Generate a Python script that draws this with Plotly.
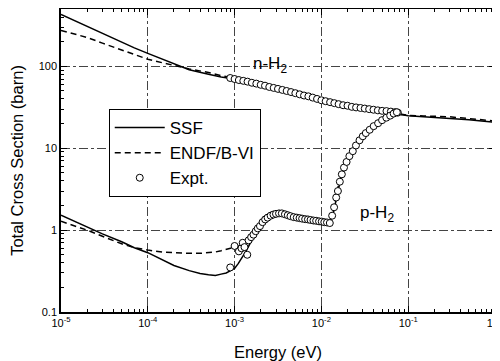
import plotly.graph_objects as go

# ---------------- data ----------------
# SSF model, n-H2
ssf_n_E = [1e-5, 1.5e-5, 2e-5, 3e-5, 5e-5, 7e-5, 1e-4, 1.5e-4, 2e-4, 3e-4, 5e-4, 7e-4,
           1e-3, 1.5e-3, 2e-3, 3e-3, 5e-3, 7e-3, 1e-2, 1.5e-2, 2e-2, 3e-2, 5e-2, 6.5e-2,
           7.2e-2, 7.8e-2, 8.5e-2, 1e-1, 1.3e-1, 1.7e-1, 2.2e-1, 3e-1, 4e-1, 5e-1, 7e-1, 1.0]
ssf_n_s = [430, 352, 305, 250, 196, 168, 144, 121, 106, 91, 80, 74,
           70, 64, 59, 52, 45, 41, 38, 35, 33.5, 31, 28.5, 27.5,
           27.2, 26.3, 25.6, 25.0, 24.6, 24.2, 23.9, 23.3, 22.8, 22.3, 21.5, 20.8]

# ENDF/B-VI, n-H2
endf_n_E = [1e-5, 1.5e-5, 2e-5, 3e-5, 5e-5, 7e-5, 1e-4, 1.5e-4, 2e-4, 3e-4, 5e-4, 7e-4,
            1e-3, 2e-3, 5e-3, 1e-2, 2e-2, 3e-2, 5e-2, 7e-2, 8e-2, 1e-1, 1.5e-1, 2e-1,
            2.6e-1, 3e-1, 4e-1, 5e-1, 7e-1, 1.0]
endf_n_s = [275, 245, 225, 192, 157, 138, 122, 110, 102, 93, 84, 77,
            72, 60, 45, 38.5, 33.5, 31, 28.5, 27, 26, 25.2, 24.8, 24.6,
            24.1, 24.2, 23.5, 22.9, 22.2, 21.5]

# SSF model, p-H2
ssf_p_E = [1e-5, 1.5e-5, 2e-5, 3e-5, 5e-5, 7e-5, 1e-4, 1.5e-4, 2e-4, 3e-4, 4e-4, 5e-4,
           6e-4, 7e-4, 8e-4, 9e-4, 1e-3, 1.1e-3, 1.2e-3, 1.35e-3, 1.5e-3, 1.7e-3, 1.9e-3,
           2.1e-3, 2.4e-3, 2.8e-3, 3.3e-3, 4e-3, 5e-3, 7e-3, 1e-2, 1.25e-2, 1.35e-2,
           1.5e-2, 1.7e-2, 2e-2, 2.5e-2, 3e-2, 4e-2, 5e-2, 6e-2, 7e-2, 7.5e-2, 8e-2, 8.5e-2]
ssf_p_s = [1.52, 1.25, 1.07, 0.9, 0.72, 0.61, 0.53, 0.43, 0.37, 0.32, 0.295, 0.285,
           0.28, 0.29, 0.3, 0.32, 0.34, 0.39, 0.45, 0.55, 0.68, 0.85, 1.02,
           1.2, 1.4, 1.52, 1.58, 1.52, 1.45, 1.36, 1.28, 1.22, 1.5,
           2.5, 4.6, 7.0, 10.8, 14.0, 18.6, 22.0, 24.8, 26.8, 27.3, 26.3, 25.6]

# ENDF/B-VI, p-H2
endf_p_E = [1e-5, 1.5e-5, 2e-5, 3e-5, 5e-5, 7e-5, 1e-4, 1.5e-4, 2e-4, 3e-4, 4e-4, 5e-4,
            6e-4, 7e-4, 8e-4, 9e-4, 1e-3, 1.2e-3, 1.5e-3, 2e-3, 2.5e-3, 3e-3, 4e-3,
            6e-3, 1e-2, 1.25e-2, 1.4e-2, 1.6e-2, 2e-2, 3e-2, 5e-2, 7e-2, 8e-2]
endf_p_s = [1.28, 1.12, 1.0, 0.84, 0.68, 0.61, 0.57, 0.54, 0.53, 0.52, 0.52, 0.53,
            0.54, 0.56, 0.58, 0.6, 0.62, 0.65, 0.75, 1.1, 1.42, 1.56, 1.52,
            1.4, 1.28, 1.23, 1.9, 3.9, 7.0, 14.0, 22.0, 26.8, 26.0]

# Experiment, n-H2
exp_n_E = [8.9e-4, 1.0e-3, 1.12e-3, 1.26e-3, 1.41e-3, 1.58e-3, 1.78e-3, 2.0e-3, 2.24e-3,
           2.51e-3, 2.82e-3, 3.16e-3, 3.55e-3, 3.98e-3, 4.47e-3, 5.01e-3, 5.62e-3, 6.31e-3,
           7.08e-3, 7.94e-3, 8.91e-3, 1.0e-2, 1.12e-2, 1.26e-2, 1.41e-2, 1.58e-2, 1.78e-2,
           2.0e-2, 2.24e-2, 2.51e-2, 2.82e-2, 3.16e-2, 3.55e-2, 3.98e-2, 4.47e-2, 5.01e-2,
           5.62e-2, 6.31e-2, 7.08e-2, 7.6e-2]
exp_n_s = [72, 70, 68, 66.5, 65, 63, 61.5, 59.5, 58,
           56, 54.5, 53, 51.5, 50, 48.5, 47, 45.5, 44,
           43, 41.5, 40, 38.5, 37.5, 36.5, 35.5, 34.5, 33.5,
           33, 32, 31.5, 31, 30.5, 30, 29.5, 29, 28.6,
           28.4, 28, 27.6, 27.2]

# Experiment, p-H2
exp_p_E = [8.9e-4, 1.0e-3, 1.12e-3, 1.2e-3, 1.24e-3, 1.3e-3, 1.4e-3, 1.45e-3, 1.55e-3,
           1.65e-3, 1.75e-3, 1.85e-3, 1.96e-3, 2.1e-3, 2.25e-3, 2.4e-3, 2.6e-3, 2.8e-3,
           3.0e-3, 3.25e-3, 3.5e-3, 3.8e-3, 4.1e-3, 4.4e-3, 4.8e-3, 5.2e-3, 5.6e-3,
           6.0e-3, 6.5e-3, 7.0e-3, 7.5e-3, 8.1e-3, 8.7e-3, 9.4e-3, 1.01e-2, 1.08e-2,
           1.16e-2, 1.25e-2, 1.33e-2, 1.4e-2, 1.48e-2, 1.55e-2, 1.63e-2, 1.72e-2, 1.82e-2,
           1.95e-2, 2.1e-2, 2.3e-2, 2.5e-2, 2.75e-2, 3.0e-2, 3.25e-2, 3.6e-2, 4.0e-2,
           4.5e-2, 5.0e-2, 5.6e-2, 6.2e-2, 6.8e-2, 7.4e-2]
exp_p_s = [0.35, 0.64, 0.55, 0.6, 0.7, 0.62, 0.5, 0.75, 0.82,
           0.88, 0.97, 1.05, 1.12, 1.25, 1.35, 1.42, 1.5, 1.55,
           1.58, 1.6, 1.6, 1.56, 1.52, 1.48, 1.44, 1.42, 1.4,
           1.38, 1.36, 1.35, 1.33, 1.31, 1.3, 1.28, 1.27, 1.25,
           1.24, 1.22, 1.5, 1.9, 2.5, 3.0, 3.9, 4.8, 5.8,
           6.8, 8.0, 9.2, 10.8, 12.5, 14.0, 15.3, 16.8, 18.6,
           20.2, 22.0, 23.6, 25.0, 26.5, 27.5]

x_tickvals = [1e-5, 1e-4, 1e-3, 1e-2, 1e-1, 1]
x_ticktext = ["10<sup>-5</sup>", "10<sup>-4</sup>", "10<sup>-3</sup>",
              "10<sup>-2</sup>", "10<sup>-1</sup>", "10<sup>0</sup>"]
y_tickvals = [0.1, 1, 10, 100]
y_ticktext = ["0.1", "1", "10", "100"]
x_minor = [m * d for d in [1e-5, 1e-4, 1e-3, 1e-2, 1e-1] for m in range(2, 10)]
y_minor = [m * d for d in [0.1, 1, 10] for m in range(2, 10)] + [200, 300, 400]

FONT = "Liberation Sans, Arial, Helvetica, sans-serif"

fig = go.Figure()
line_solid = dict(color="black", width=1.5)
line_dash = dict(color="black", width=1.5, dash="6px,4px")

fig.add_trace(go.Scatter(x=ssf_n_E, y=ssf_n_s, mode="lines", line=line_solid,
                         name="SSF", legendrank=1))
fig.add_trace(go.Scatter(x=ssf_p_E, y=ssf_p_s, mode="lines", line=line_solid,
                         name="SSF", showlegend=False))
fig.add_trace(go.Scatter(x=endf_n_E, y=endf_n_s, mode="lines", line=line_dash,
                         name="ENDF/B-VI", legendrank=2))
fig.add_trace(go.Scatter(x=endf_p_E, y=endf_p_s, mode="lines", line=line_dash,
                         name="ENDF/B-VI", showlegend=False))
marker = dict(symbol="circle", size=7, color="white", line=dict(color="black", width=1))
fig.add_trace(go.Scatter(x=exp_n_E, y=exp_n_s, mode="markers", marker=marker,
                         name="Expt.", legendrank=3))
fig.add_trace(go.Scatter(x=exp_p_E, y=exp_p_s, mode="markers", marker=marker,
                         name="Expt.", showlegend=False))

axis_common = dict(
    type="log", showline=True, linecolor="black", linewidth=1.5, mirror="allticks",
    ticks="inside", ticklen=6, tickwidth=1, tickcolor="black",
    showgrid=True, gridcolor="#444", gridwidth=1, griddash="dashdot",
    zeroline=False, automargin=False,
    tickfont=dict(family=FONT, size=11, color="black"),
)

fig.update_xaxes(**axis_common, range=[-5, 0], tickmode="array",
                 tickvals=x_tickvals, ticktext=x_ticktext,
                 minor=dict(tickmode="array", tickvals=x_minor, ticks="inside",
                            ticklen=3, tickcolor="black", showgrid=False),
                 title=dict(text="Energy (eV)", font=dict(family=FONT, size=16.5, color="black"),
                            standoff=18))
fig.update_yaxes(**axis_common, range=[-1, 2.7], tickmode="array",
                 tickvals=y_tickvals, ticktext=y_ticktext,
                 minor=dict(tickmode="array", tickvals=y_minor, ticks="inside",
                            ticklen=3, tickcolor="black", showgrid=False),
                 title=dict(text="Total Cross Section (barn)",
                            font=dict(family=FONT, size=16.5, color="black"), standoff=12))

fig.add_annotation(x=-2.81, y=2.02, xref="x", yref="y", text="n-H<sub>2</sub>",
                   showarrow=False, xanchor="left", yanchor="middle",
                   font=dict(family=FONT, size=17, color="black"))
fig.add_annotation(x=-1.578, y=0.195, xref="x", yref="y", text="p-H<sub>2</sub>",
                   showarrow=False, xanchor="left", yanchor="middle",
                   font=dict(family=FONT, size=17, color="black"))

# the page body adds an 8px offset; margins compensate so the plot area
# lands at x 61..495, y 9..312 in the 500x361 window
fig.update_layout(
    width=500, height=361,
    margin=dict(l=53, r=13, t=1, b=57),
    paper_bgcolor="white", plot_bgcolor="white",
    font=dict(family=FONT, color="black"),
    showlegend=True,
    legend=dict(x=0.11, y=0.67, xanchor="left", yanchor="top",
                bgcolor="white", bordercolor="black", borderwidth=1,
                font=dict(family=FONT, size=17, color="black"),
                itemwidth=50, tracegroupgap=0),
)

fig.write_html("out.html")
